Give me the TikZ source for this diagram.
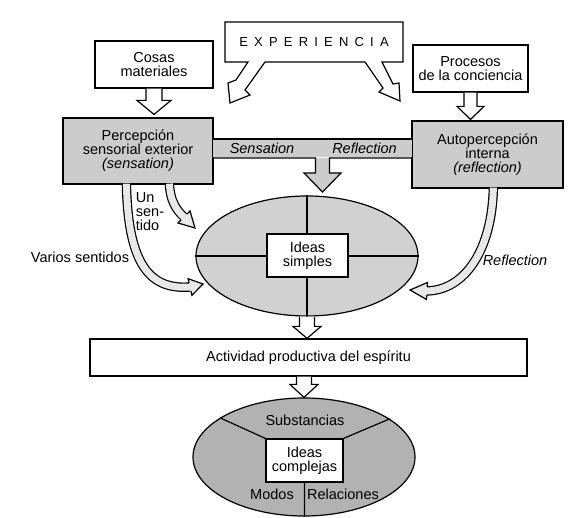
\documentclass[tikz,border=0pt]{standalone}
\usepackage{fontspec}
\setmainfont{Liberation Sans}
\usetikzlibrary{calc,shapes.geometric}
\definecolor{boxgray}{gray}{0.80}
\definecolor{ellgray}{gray}{0.82}
\definecolor{elltwogray}{gray}{0.70}
\definecolor{shaftgray}{gray}{0.91}
% straight hollow block arrow: style, from, to(tip), stem half, head half, head length
\newcommand\blockarrow[6]{%
  \draw[#1] let \p1=(#2), \p2=(#3) in
    (\x1-#4pt,\y1) -- (\x1-#4pt,\y2+#6pt) -- (\x1-#5pt,\y2+#6pt) -- (\x1,\y2)
    -- (\x1+#5pt,\y2+#6pt) -- (\x1+#4pt,\y2+#6pt) -- (\x1+#4pt,\y1);}
% head of a curved hollow arrow: base centre, tip
\newcommand\hollowhead[2]{%
  \draw[fill=shaftgray] ($(#1)!4.1pt!90:(#2)$) -- ($(#1)!8.5pt!90:(#2)$) -- (#2)
    -- ($(#1)!8.5pt!-90:(#2)$) -- ($(#1)!4.1pt!-90:(#2)$);}
\begin{document}
\begin{tikzpicture}[x=1pt,y=-1pt,line width=1.2pt,line join=miter,
  every node/.style={font=\fontsize{14.5}{14}\selectfont,inner sep=0pt,align=center},
  plainbox/.style={draw,fill=white,rectangle},
  graybox/.style={draw,fill=boxgray,rectangle},
  shaft/.style={double=shaftgray,double distance=7pt}]
\useasboundingbox[fill=white] (0,0) rectangle (571,518);

% top boxes
\node[plainbox,minimum width=118pt,minimum height=47pt] (cosas) at (154,64.5) {Cosas\\materiales};
\node[plainbox,minimum width=115pt,minimum height=47pt] (procesos) at (470.5,68.5) {Procesos\\de la conciencia};

% EXPERIENCIA callout
\draw[fill=white] (225,22) -- (403,22) -- (403,62) -- (382,62) -- (393,84) -- (399,83)
  -- (400,101) -- (379,92) -- (383,88) -- (365,62) -- (265,62) -- (245,90) -- (250,95)
  -- (230,103) -- (228,83) -- (236,80) -- (248,62) -- (225,62) -- cycle;
\node[font=\fontsize{13}{13}\selectfont] (exp) at (314,42)
  {E\kern6.2pt X\kern6.2pt P\kern6.2pt E\kern6.2pt R\kern6.2pt I\kern6.2pt E\kern6.2pt N\kern6.2pt C\kern6.2pt I\kern6.2pt A};

% perception boxes and band
\node[graybox,minimum width=150pt,minimum height=66pt] (perc) at (138,151)
  {Percepción\\sensorial exterior\\\textit{(sensation)}};
\node[graybox,minimum width=151pt,minimum height=67pt] (auto) at (487.5,154.5)
  {Autopercepción\\interna\\\textit{(reflection)}};
\coordinate (ytop) at (0,139);
\coordinate (ybot) at (0,158);
\coordinate (garrow) at (322.5,158);
\fill[boxgray] ($(perc.east |- ytop)+(-0.8,0.7)$) rectangle ($(auto.west |- ybot)+(0.8,-0.7)$);
\draw (perc.east |- ytop) -- (auto.west |- ytop);
\draw[fill=boxgray] (perc.east |- ybot) -- ($(garrow)+(-7,0)$) -- ($(garrow)+(-7,15)$)
  -- ($(garrow)+(-18.5,15)$) -- ($(garrow)+(0,34)$) -- ($(garrow)+(18.5,15)$)
  -- ($(garrow)+(7,15)$) -- ($(garrow)+(7,0)$) -- (auto.west |- ybot);
\node[font=\fontsize{14.5}{14}\selectfont\itshape] (sens) at (262,148.5) {Sensation};
\node[font=\fontsize{14.5}{14}\selectfont\itshape] (refl) at (364.5,148.5) {Reflection};

% simple ideas
\node[ellipse,draw,fill=ellgray,minimum width=222pt,minimum height=120pt] (e1) at (307,256) {};
\draw (e1.west) -- (e1.east) (e1.north) -- (e1.south);
\node[plainbox,minimum width=81pt,minimum height=43pt] (simples) at (307.5,255.5) {Ideas\\simples};

% productive activity
\node[plainbox,minimum width=437pt,minimum height=37pt] (act) at (308.5,357.5) {Actividad productiva del espíritu};

% complex ideas
\node[ellipse,draw,fill=elltwogray,minimum width=222pt,minimum height=118pt] (e2) at (304,457) {};
\node[plainbox,minimum width=77pt,minimum height=43pt] (complejas) at (304.5,460.5) {Ideas\\complejas};
\draw (e2.155) -- (complejas.north west) (complejas.north east) -- (e2.24)
  (complejas.south) -- (complejas.south |- e2.south);
\node (subst) at (305,420) {Substancias};
\node (modos) at (272,494) {Modos};
\node (rel) at (343,494) {Relaciones};

% straight block arrows
\blockarrow{fill=white}{cosas.south}{$(perc.north)+(0,-3)$}{8}{17}{14}
\blockarrow{fill=white}{procesos.south}{$(auto.north)+(0,-1)$}{6.5}{13.5}{13}
\blockarrow{fill=white}{e1.south}{act.north}{7.5}{14}{12}
\blockarrow{fill=white}{act.south -| e2.north}{e2.north}{7.5}{14}{13}

% curved arrows
\coordinate (v0) at ($(perc.south west)+(64,-1)$);
\coordinate (vC) at (190,287);
\coordinate (vT) at (203,284);
\draw[shaft] (v0) .. controls (128,265) and (150,290) .. (vC);
\hollowhead{vC}{vT}
\coordinate (u0) at ($(perc.south west)+(107,-1)$);
\coordinate (uC) at (184,217);
\coordinate (uT) at (195,228);
\draw[shaft] (u0) .. controls (170,200) and (176,210) .. (uC);
\hollowhead{uC}{uT}
\coordinate (r0) at ($(auto.south west)+(82,-1)$);
\coordinate (rC) at (427,291);
\coordinate (rT) at (410,290);
\draw[shaft] (r0) .. controls (492,250) and (465,290) .. (rC);
\hollowhead{rC}{rT}

% free labels
\node[align=left] (un) at (150,212) {Un\\sen-\\tido};
\node (varios) at (80,257) {Varios sentidos};
\node[font=\fontsize{14.5}{14}\selectfont\itshape] (reflr) at (515,260) {Reflection};
\end{tikzpicture}
\end{document}
